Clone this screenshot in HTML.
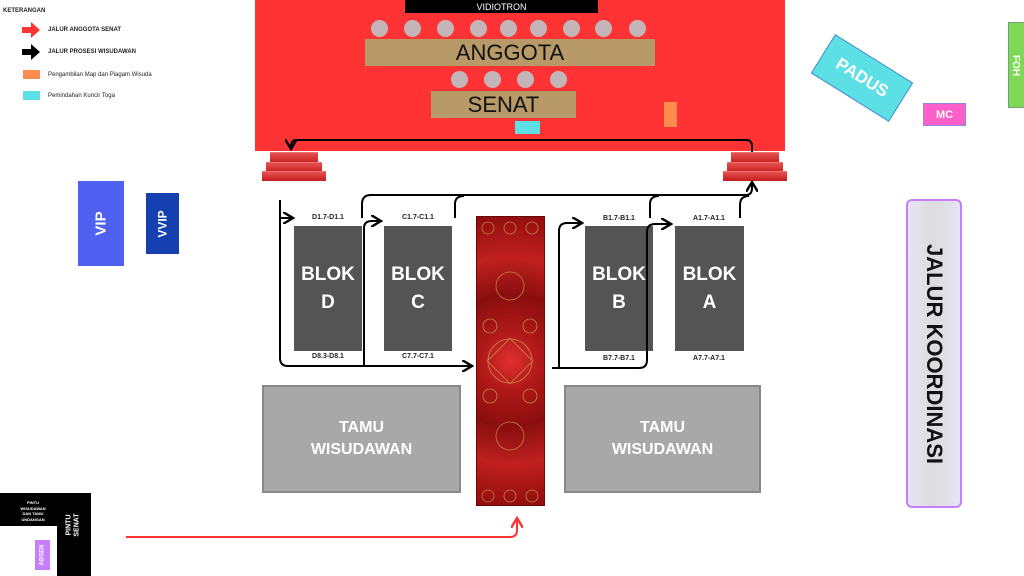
<!DOCTYPE html>
<html><head><meta charset="utf-8"><style>
body{margin:0;width:1024px;height:576px;background:#fff;position:relative;overflow:hidden;font-family:"Liberation Sans",sans-serif}
.a{position:absolute;box-sizing:border-box}
.c{display:flex;align-items:center;justify-content:center;text-align:center}
.blk{background:#545454;color:#fff;font-weight:bold;font-size:19px;line-height:28px}
.lab{font-size:7px;font-weight:bold;color:#222;text-align:center;width:70px}
.seat{position:absolute;width:17px;height:17px;border-radius:50%;background:#c4b6b8}
.st{position:absolute;background:linear-gradient(#e85050,#c41c1c);border-top:1px solid #f07070}
.tamu{background:#a8a8a8;border:2px solid #888;color:#fff;font-weight:bold;font-size:16px;line-height:22px}
</style></head><body>
<!-- legend -->
<div class="a" style="left:3px;top:8px;font-size:6px;font-weight:bold;color:#222">KETERANGAN</div>
<svg class="a" style="left:22px;top:22px" width="20" height="42"><polygon points="0,5 9,5 9,0 18,8 9,16 9,11 0,11" fill="#ff3333"/><polygon points="0,27 9,27 9,22 18,30 9,38 9,33 0,33" fill="#000"/></svg>
<div class="a" style="left:48px;top:27px;font-size:6px;font-weight:bold;color:#222">JALUR ANGGOTA SENAT</div>
<div class="a" style="left:48px;top:49px;font-size:6px;font-weight:bold;color:#222">JALUR PROSESI WISUDAWAN</div>
<div class="a" style="left:23px;top:70px;width:17px;height:9px;background:#ff8c4c"></div>
<div class="a" style="left:48px;top:72px;font-size:6px;color:#222">Pengambilan Map dan Piagam Wisuda</div>
<div class="a" style="left:23px;top:91px;width:17px;height:9px;background:#5ce0e6"></div>
<div class="a" style="left:48px;top:93px;font-size:6px;color:#222">Pemindahan Kuncir Toga</div>
<!-- stage -->
<div class="a" style="left:255px;top:0;width:530px;height:151px;background:#ff3333"></div>
<div class="a c" style="left:405px;top:0;width:193px;height:13px;background:#000;color:#fff;font-size:9px">VIDIOTRON</div>
<div class="seat" style="left:371px;top:20px"></div><div class="seat" style="left:404px;top:20px"></div><div class="seat" style="left:437px;top:20px"></div><div class="seat" style="left:470px;top:20px"></div><div class="seat" style="left:500px;top:20px"></div><div class="seat" style="left:530px;top:20px"></div><div class="seat" style="left:563px;top:20px"></div><div class="seat" style="left:595px;top:20px"></div><div class="seat" style="left:629px;top:20px"></div>
<div class="a c" style="left:365px;top:39px;width:290px;height:27px;background:#b89a68;font-size:22px;color:#111">ANGGOTA</div>
<div class="seat" style="left:451px;top:71px"></div><div class="seat" style="left:484px;top:71px"></div><div class="seat" style="left:517px;top:71px"></div><div class="seat" style="left:550px;top:71px"></div>
<div class="a c" style="left:431px;top:91px;width:145px;height:27px;background:#b89a68;font-size:22px;color:#111">SENAT</div>
<div class="a" style="left:515px;top:121px;width:25px;height:13px;background:#5ce0e6"></div>
<div class="a" style="left:664px;top:102px;width:13px;height:25px;background:#ff8c4c"></div>
<!-- stairs -->
<div class="st" style="left:270px;top:152px;width:48px;height:11px"></div><div class="st" style="left:266px;top:162px;width:56px;height:10px"></div><div class="st" style="left:262px;top:171px;width:64px;height:9px"></div>
<div class="st" style="left:731px;top:152px;width:48px;height:11px"></div><div class="st" style="left:727px;top:162px;width:56px;height:10px"></div><div class="st" style="left:723px;top:171px;width:64px;height:9px"></div>
<!-- VIP -->
<div class="a c" style="left:78px;top:181px;width:46px;height:85px;background:#5060f0;color:#fff;font-weight:bold;font-size:15px"><span style="transform:rotate(-90deg)">VIP</span></div>
<div class="a c" style="left:146px;top:193px;width:33px;height:61px;background:#1640b0;color:#fff;font-weight:bold;font-size:12px"><span style="transform:rotate(-90deg)">VVIP</span></div>
<!-- right -->
<div class="a c" style="left:816px;top:55px;width:92px;height:46px;background:#5ce0e6;border:1px solid #4a8ad0;transform:rotate(32deg);color:#fff;font-weight:bold;font-size:17px">PADUS</div>
<div class="a c" style="left:923px;top:103px;width:43px;height:23px;background:#ff5fc8;border:1px solid #8a8ae0;color:#fff;font-weight:bold;font-size:11px">MC</div>
<div class="a c" style="left:1008px;top:22px;width:20px;height:86px;background:#7ed957;border:1px solid #70a080;color:#fff;font-weight:bold;font-size:10px"><span style="transform:rotate(90deg);margin-right:4px">FOH</span></div>
<div class="a c" style="left:906px;top:199px;width:56px;height:309px;background:linear-gradient(90deg,#e8e4f4,#dcdcdc 50%,#e8e4f4);border:2px solid #c77dff;border-radius:6px;color:#111;font-weight:bold;font-size:22px"><span style="transform:rotate(90deg);white-space:nowrap">JALUR KOORDINASI</span></div>
<!-- blocks -->
<div class="a c blk" style="left:294px;top:226px;width:68px;height:125px">BLOK<br>D</div>
<div class="a c blk" style="left:384px;top:226px;width:68px;height:125px">BLOK<br>C</div>
<div class="a c blk" style="left:585px;top:226px;width:68px;height:125px">BLOK<br>B</div>
<div class="a c blk" style="left:675px;top:226px;width:69px;height:125px">BLOK<br>A</div>
<div class="a lab" style="left:293px;top:214px">D1.7-D1.1</div><div class="a lab" style="left:383px;top:214px">C1.7-C1.1</div><div class="a lab" style="left:584px;top:215px">B1.7-B1.1</div><div class="a lab" style="left:674px;top:215px">A1.7-A1.1</div>
<div class="a lab" style="left:293px;top:353px">D8.3-D8.1</div><div class="a lab" style="left:383px;top:353px">C7.7-C7.1</div><div class="a lab" style="left:584px;top:355px">B7.7-B7.1</div><div class="a lab" style="left:674px;top:355px">A7.7-A7.1</div>
<!-- carpet -->
<div class="a" style="left:476px;top:216px;width:69px;height:290px;background:radial-gradient(circle at 50% 50%,#e03030 0,#b01818 20%,#8a0e0e 45%,#c02020 70%,#900c0c 100%);border:1px solid #6a0808"></div>
<svg class="a" style="left:476px;top:216px" width="69" height="290"><g fill="none" stroke="#c8a050" stroke-width="0.8" opacity="0.8"><circle cx="34" cy="70" r="14"/><circle cx="34" cy="145" r="22"/><rect x="18" y="129" width="32" height="32" transform="rotate(45 34 145)"/><circle cx="34" cy="220" r="14"/><circle cx="12" cy="12" r="6"/><circle cx="34" cy="12" r="6"/><circle cx="56" cy="12" r="6"/><circle cx="12" cy="280" r="6"/><circle cx="34" cy="280" r="6"/><circle cx="56" cy="280" r="6"/><circle cx="14" cy="110" r="7"/><circle cx="54" cy="110" r="7"/><circle cx="14" cy="180" r="7"/><circle cx="54" cy="180" r="7"/></g></svg>
<!-- tamu -->
<div class="a c tamu" style="left:262px;top:385px;width:199px;height:108px">TAMU<br>WISUDAWAN</div>
<div class="a c tamu" style="left:564px;top:385px;width:197px;height:108px">TAMU<br>WISUDAWAN</div>
<!-- doors -->
<div class="a" style="left:0;top:493px;width:88px;height:33px;background:#000"></div>
<div class="a" style="left:57px;top:493px;width:34px;height:83px;background:#000"></div>
<div class="a" style="left:12px;top:500px;width:42px;font-size:4px;line-height:5.5px;color:#fff;font-weight:bold;text-align:center">PINTU<br>WISUDAWAN<br>DAN TAMU<br>UNDANGAN</div>
<div class="a c" style="left:60px;top:505px;width:28px;height:40px;color:#fff;font-weight:bold;font-size:7px;line-height:8px"><span style="transform:rotate(-90deg);white-space:nowrap">PINTU<br>SENAT</span></div>
<div class="a c" style="left:35px;top:540px;width:15px;height:30px;background:#c77dff;color:#fff;font-weight:bold;font-size:6px"><span style="transform:rotate(-90deg)">ABSEN</span></div>
<!-- connectors -->
<svg class="a" style="left:0;top:0" width="1024" height="576">
<defs><marker id="k" markerWidth="6" markerHeight="6" refX="4" refY="3" orient="auto" markerUnits="strokeWidth"><path d="M0,0 L5,3 L0,6" fill="none" stroke="#000" stroke-width="1.2"/></marker>
<marker id="r" markerWidth="6" markerHeight="6" refX="4" refY="3" orient="auto" markerUnits="strokeWidth"><path d="M0,0 L5,3 L0,6" fill="none" stroke="#ff3333" stroke-width="1.2"/></marker></defs>
<g fill="none" stroke="#000" stroke-width="2">
<path d="M752,152 V146 Q752,140 746,140 H296 Q291,140 291,147" marker-end="url(#k)"/>
<path d="M280,200 V358 Q280,366 288,366 H470" marker-end="url(#k)"/>
<path d="M280,218 H291" marker-end="url(#k)"/>
<path d="M362,218 V204 Q362,195 371,195 H746 Q752,195 752,188 V184" marker-end="url(#k)"/>
<path d="M455,218 V204 Q455,196 464,196"/>
<path d="M650,218 V204 Q650,196 659,196"/>
<path d="M740,218 V205 Q740,196 749,196"/>
<path d="M364,366 V228 Q364,221 372,221 H379" marker-end="url(#k)"/>
<path d="M559,368 V231 Q559,223 567,223 H580" marker-end="url(#k)"/>
<path d="M552,368 H639 Q647,368 647,360 V232 Q647,224 655,224 H669" marker-end="url(#k)"/>
</g>
<path d="M126,537 H510 Q517,537 517,530 V520" fill="none" stroke="#ff3333" stroke-width="2" marker-end="url(#r)"/>
</svg>
</body></html>
